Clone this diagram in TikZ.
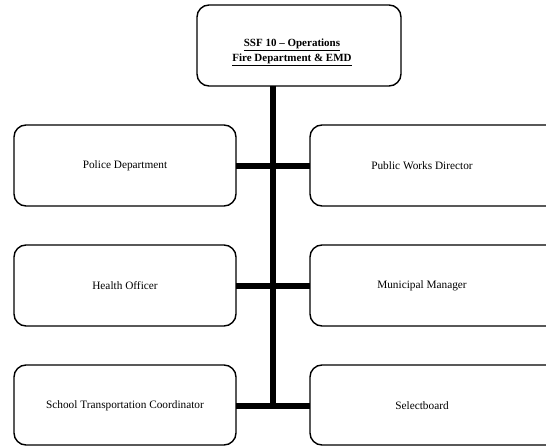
\documentclass[tikz,border=0pt]{standalone}
\usepackage{fontspec}
\setmainfont{Liberation Serif}
\begin{document}
\begin{tikzpicture}[x=1pt,y=-1pt,
  orgbox/.style={draw=black,line width=1.4pt,rounded corners=12pt,fill=white},
  lbl/.style={font=\fontsize{11.3}{13}\selectfont},
  link/.style={line width=6pt}]
\useasboundingbox (0,0) rectangle (546,446);
\clip (0,0) rectangle (546,446);
% boxes
\draw[orgbox] (197,5) rectangle (401,86);
\node[font=\fontsize{11}{15}\selectfont\bfseries,align=center,inner sep=0pt] (top) at (292,52) {\underline{SSF 10 – Operations}\\\underline{Fire Department \& EMD}};
\draw[orgbox] (14,125) rectangle (236,206);
\draw[orgbox] (310,125) rectangle (560,206);
\draw[orgbox] (14,245) rectangle (236,326);
\draw[orgbox] (310,245) rectangle (560,326);
\draw[orgbox] (14,365) rectangle (236,445);
\draw[orgbox] (310,365) rectangle (560,445);
\node[lbl] (pd) at (125,166) {Police Department};
\node[lbl] (pw) at (422,166) {Public Works Director};
\node[lbl] (ho) at (125,286) {Health Officer};
\node[lbl] (mm) at (422,286) {Municipal Manager};
\node[lbl] (st) at (125,406) {School Transportation Coordinator};
\node[lbl] (sb) at (422,406) {Selectboard};
\coordinate (topb) at (273,86);
\coordinate (pde) at (236,166);
\coordinate (pwe) at (310,166);
\coordinate (hoe) at (236,286);
\coordinate (mme) at (310,286);
\coordinate (ste) at (236,406);
\coordinate (sbe) at (310,406);
\coordinate (bot) at (273,409);
\draw[link] (topb) -- (bot);
\draw[link] (pde) -- (pwe);
\draw[link] (hoe) -- (mme);
\draw[link] (ste) -- (sbe);
\end{tikzpicture}
\end{document}
